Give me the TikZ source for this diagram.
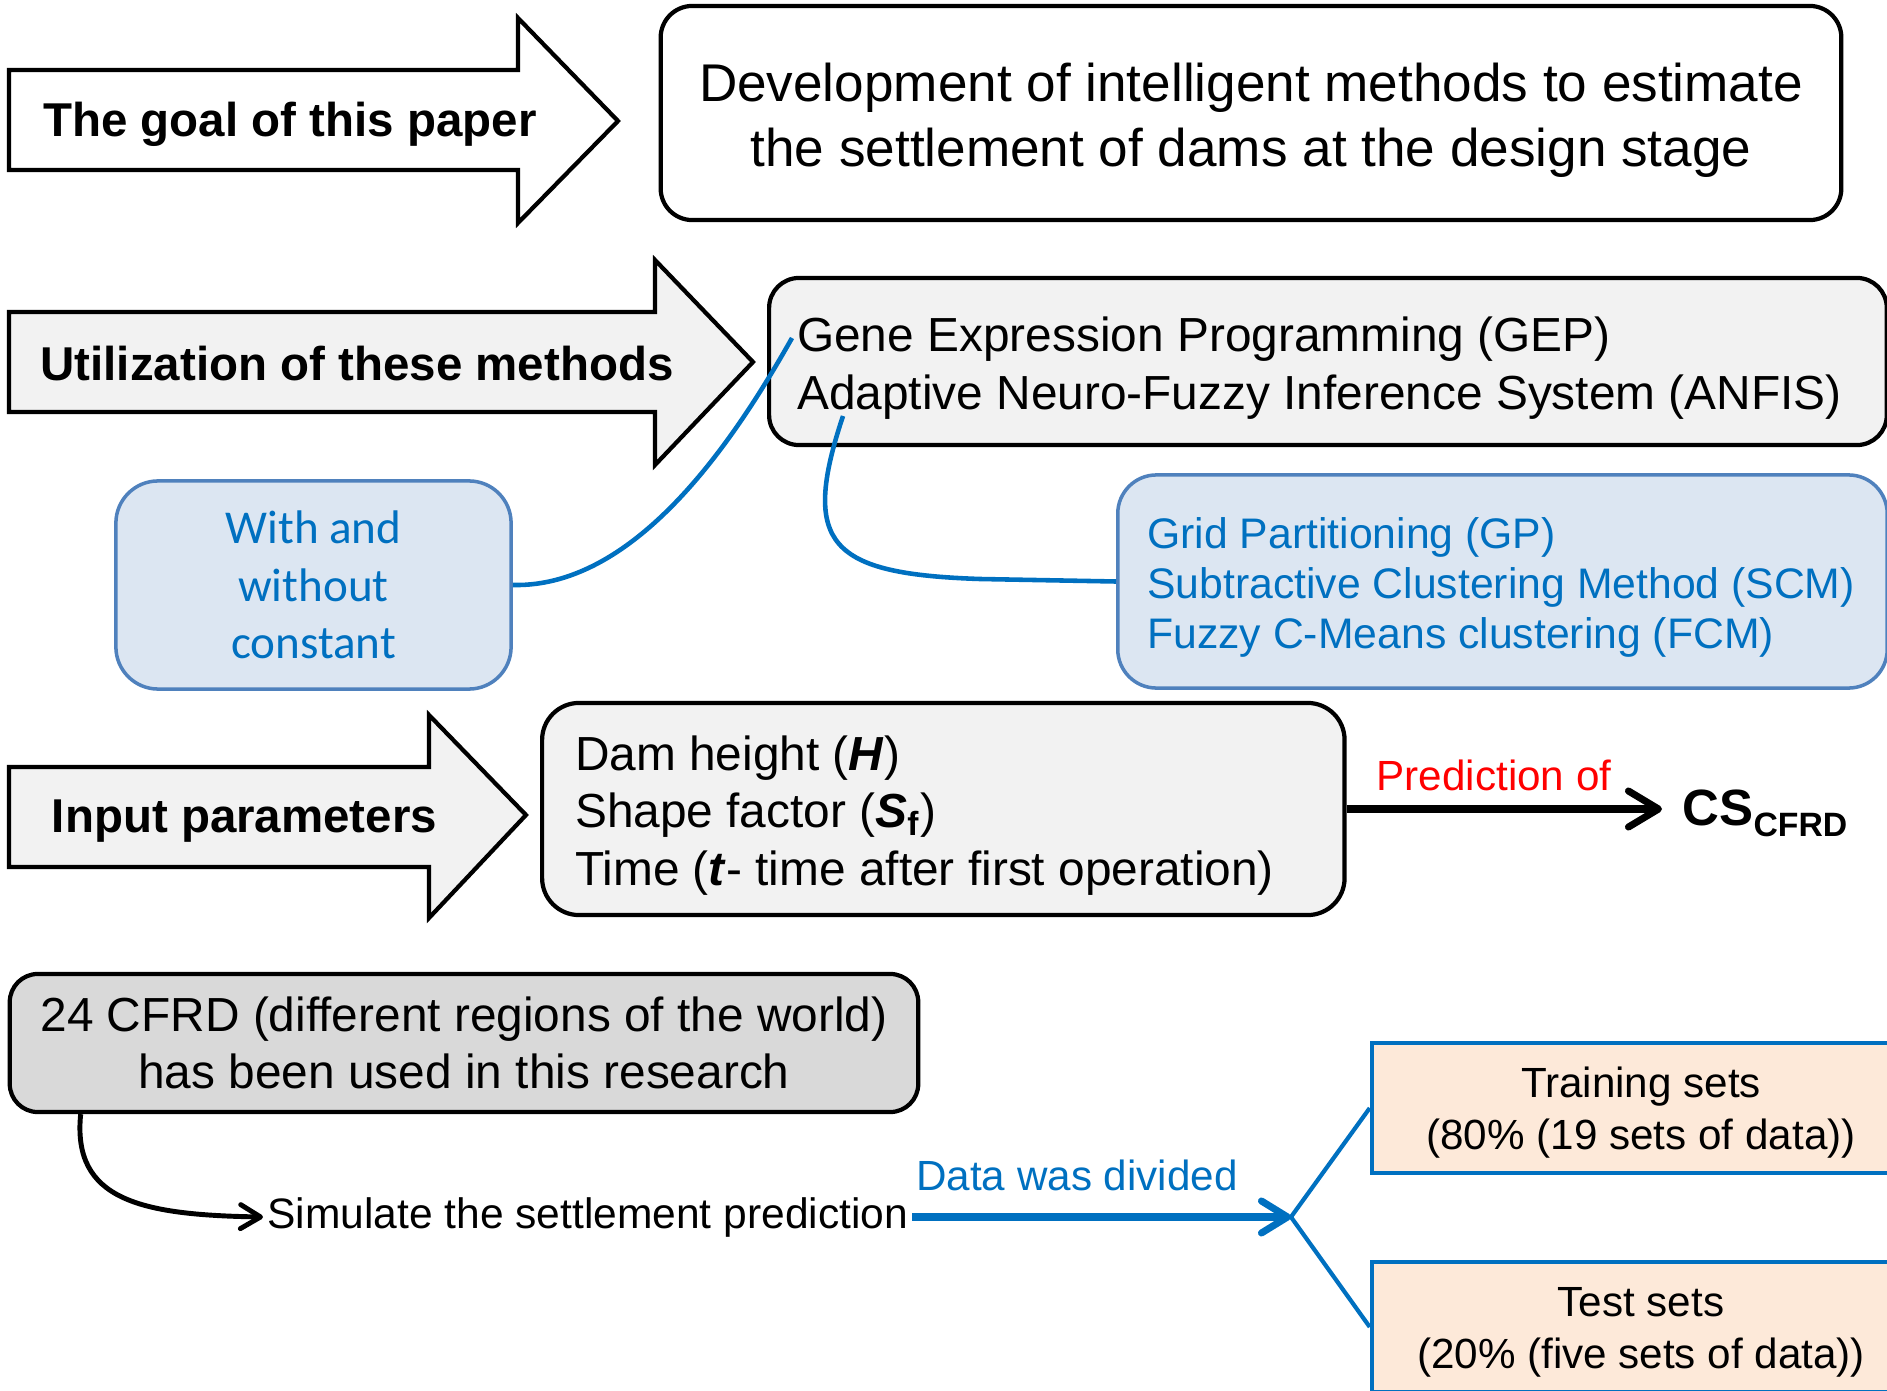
\documentclass[tikz,border=0pt]{standalone}
\usepackage{fontspec}
\setmainfont{Liberation Sans}
\newfontfamily\calibrifont{Carlito}
\usetikzlibrary{arrows.meta}

\definecolor{boxgray}{HTML}{F2F2F2}
\definecolor{datagray}{HTML}{D9D9D9}
\definecolor{textblue}{HTML}{0070C0}
\definecolor{lineblue}{HTML}{4F81BD}
\definecolor{fillblue}{HTML}{DCE6F2}
\definecolor{peach}{HTML}{FDE9D9}
\newcommand{\setfs}[2]{\fontsize{#1}{#2}\selectfont}

\begin{document}
\begin{tikzpicture}[x=0.01cm, y=-0.01cm,
  bigarrow/.style={draw, line width=1.2pt, miter limit=10},
  arrowlabel/.style={anchor=base, font=\bfseries\setfs{13.5}{16}},
  lowtext/.style={execute at begin node={\spaceskip=\fontdimen2\font\relax\rule{0pt}{#1}}},
  lowtext/.default=1em,
  roundbox/.style={draw, line width=1.2pt, fill=boxgray},
  bluebox/.style={draw=lineblue, line width=1pt, fill=fillblue, text=textblue},
  setbox/.style={draw=textblue, line width=1.2pt, fill=peach, text width=5cm, inner xsep=0.19cm,
    minimum height=1.3cm, align=center, font=\setfs{12}{14.7}, lowtext=0.95em},
  bluelink/.style={textblue, line width=1.3pt},
]
\useasboundingbox (0,0) rectangle (1887,1391);
\clip (0,0) rectangle (1887,1391);

% block arrows
\draw[bigarrow, fill=white] (9,70) -- (518,70) -- (518,18) -- (618,121) -- (518,223) -- (518,170) -- (9,170) -- cycle;
\draw[bigarrow, fill=boxgray] (9,312) -- (655,312) -- (655,260) -- (753,362) -- (655,465) -- (655,412) -- (9,412) -- cycle;
\draw[bigarrow, fill=boxgray] (9,767) -- (429,767) -- (429,715) -- (526,815) -- (429,918) -- (429,867) -- (9,867) -- cycle;

\node[arrowlabel] (goal) at (290,137) {The goal of this paper};
\node[arrowlabel] (use) at (357,380) {Utilization of these methods};
\node[arrowlabel] (inlabel) at (244.5,832) {Input parameters};

% boxes
\node[draw, line width=1.2pt, rounded corners=9pt, fill=white, text width=11.4cm, inner xsep=0.2cm, minimum height=2.14cm,
  align=center, font=\setfs{15.1}{18.4}, lowtext] (aim) at (1251,113)
  {Development of intelligent methods to estimate\\ the settlement of dams at the design stage};

\node[roundbox, lowtext, rounded corners=8.5pt, anchor=west, text width=10.61cm, inner xsep=0.28cm, minimum height=1.67cm,
  align=left, font=\setfs{13.6}{16.4}] (methods) at (767,361.5)
  {Gene Expression Programming (GEP)\\ Adaptive Neuro-Fuzzy Inference System (ANFIS)};

\node[bluebox, lowtext, rounded corners=11pt, anchor=west, text width=7.1cm, inner xsep=0.295cm, minimum height=2.13cm,
  align=left, font=\setfs{12.15}{14.2}] (clustering) at (1116,581.5)
  {Grid Partitioning (GP)\\ Subtractive Clustering Method (SCM)\\ Fuzzy C-Means clustering (FCM)};

\node[bluebox, rounded corners=12pt, minimum width=3.95cm, minimum height=2.08cm, align=center,
  font=\calibrifont\setfs{13.4}{16.4}] (constant) at (313.5,585) {With and\\ without\\ constant};

\node[roundbox, lowtext, rounded corners=10.5pt, anchor=west, text width=7.36cm, inner xsep=0.33cm, minimum height=2.12cm,
  align=left, font=\setfs{13.6}{16.3}] (inputs) at (540,809)
  {Dam height (\textbf{\textit{H}})\\ Shape factor (\textbf{\textit{S}}\textsubscript{\textbf{f}})\\
   Time (\textbf{\textit{t}}- time after first operation)};

\node[anchor=base west, inner xsep=0.2cm, font=\bfseries\setfs{14.5}{17}] (cs) at (1662,825)
  {CS\raisebox{-3.4pt}{\setfs{9.6}{11}CFRD}};
\node[anchor=base, text=red, font=\setfs{12}{14}] (predlabel) at (1494,790) {Prediction of};

\node[roundbox, rounded corners=8pt, fill=datagray, minimum width=9.08cm, minimum height=1.38cm,
  align=center, font=\setfs{13.6}{16.4}] (cfrd) at (464,1043)
  {24 CFRD (different regions of the world)\\ has been used in this research};

\node[anchor=base west, inner xsep=1pt, font=\setfs{12.1}{14}] (sim) at (263,1228) {Simulate the settlement prediction};
\node[anchor=base, text=textblue, font=\setfs{12}{14}] (divided) at (1077,1190) {Data was divided};

\node[setbox] (train) at (1641,1108) {Training sets\\ (80\% (19 sets of data))};
\node[setbox] (test) at (1641,1327) {Test sets\\ (20\% (five sets of data))};

% connectors
\coordinate (gepend) at (792,338);
\coordinate (anfisend) at (843,416);
\coordinate (split) at (sim.east -| 1291,0);

\draw[bluelink] (constant.east) .. controls (640,588) and (740,430) .. (gepend);
\draw[bluelink] (anfisend) .. controls (800,545) and (830,574) .. (980,579) -- (clustering.west);

\draw[line width=2pt, -{Straight Barb[length=3mm, width=3.6mm, round]}] (inputs.east) -- (inputs.east -| cs.west);
\draw[line width=1.4pt, -{Straight Barb[length=2mm, width=2.4mm, round]}]
  ([xshift=0.73cm]cfrd.south west) .. controls (72,1200) and (140,1215) .. (sim.west);
\draw[textblue, line width=2pt, -{Straight Barb[length=2.6mm, width=3.2mm, round]}] (sim.east) -- (split);
\draw[textblue, line width=1.2pt] (train.west) -- (split) -- (test.west);

\end{tikzpicture}
\end{document}
